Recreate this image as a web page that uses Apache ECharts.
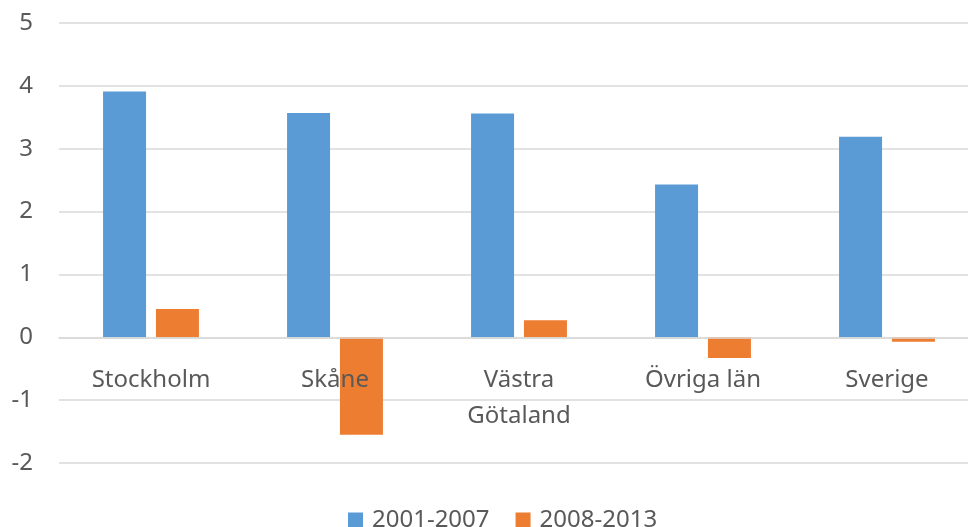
<!DOCTYPE html>
<html>
<head>
<meta charset="utf-8">
<script src="https://cdn.jsdelivr.net/npm/echarts@6/dist/echarts.min.js"></script>
<style>html,body{margin:0;padding:0;background:#fff}#c{width:968px;height:527px}</style>
</head>
<body>
<div id="c"></div>
<script>
const categories = ['Stockholm', 'Skåne', 'Västra\nGötaland', 'Övriga län', 'Sverige'];
const seriesNames = ['2001-2007', '2008-2013'];
const values2001_2007 = [3.91, 3.57, 3.56, 2.43, 3.19];
const values2008_2013 = [0.45, -1.55, 0.27, -0.33, -0.07];
const yTicks = [-2, -1, 0, 1, 2, 3, 4, 5];

const textColor = '#595959';
const fontFamily = '"Noto Sans", "Open Sans", sans-serif';
const gridHeight = 440;
const yMin = yTicks[0], yMax = yTicks[yTicks.length - 1];
const zeroOffset = -gridHeight * (0 - yMin) / (yMax - yMin);
const chart = echarts.init(document.getElementById('c'), null, {renderer: 'canvas'});
chart.setOption({
  animation: false,
  grid: {left: 59, top: 23, width: 920, height: gridHeight, containLabel: false, outerBoundsMode: 'none'},
  legend: {
    data: seriesNames,
    left: 343, top: 503,
    itemWidth: 15, itemHeight: 15, itemGap: 26,
    icon: 'rect',
    textStyle: {color: textColor, fontSize: 24, fontFamily: fontFamily, padding: [0,0,0,4]}
  },
  xAxis: {
    type: 'category',
    data: categories,
    offset: zeroOffset,
    z: 10,
    axisLine: {onZero: false, lineStyle: {color: '#d9d9d9', width: 1.5}},
    axisTick: {show: false},
    axisLabel: {color: textColor, fontSize: 24, fontFamily: fontFamily, margin: 25, lineHeight: 36, interval: 0}
  },
  yAxis: {
    type: 'value',
    min: yMin, max: yMax, interval: 1,
    axisLine: {show: false},
    axisTick: {show: false},
    splitLine: {lineStyle: {color: '#d9d9d9', width: 1.5}},
    axisLabel: {color: textColor, fontSize: 24, fontFamily: fontFamily, margin: 26}
  },
  series: [
    {name: seriesNames[0], type: 'bar', data: values2001_2007, barWidth: 43, barGap: '23%',
     itemStyle: {color: '#5B9BD5'}},
    {name: seriesNames[1], type: 'bar', data: values2008_2013, barWidth: 43,
     itemStyle: {color: '#ED7D31'}}
  ]
});
</script>
</body>
</html>
